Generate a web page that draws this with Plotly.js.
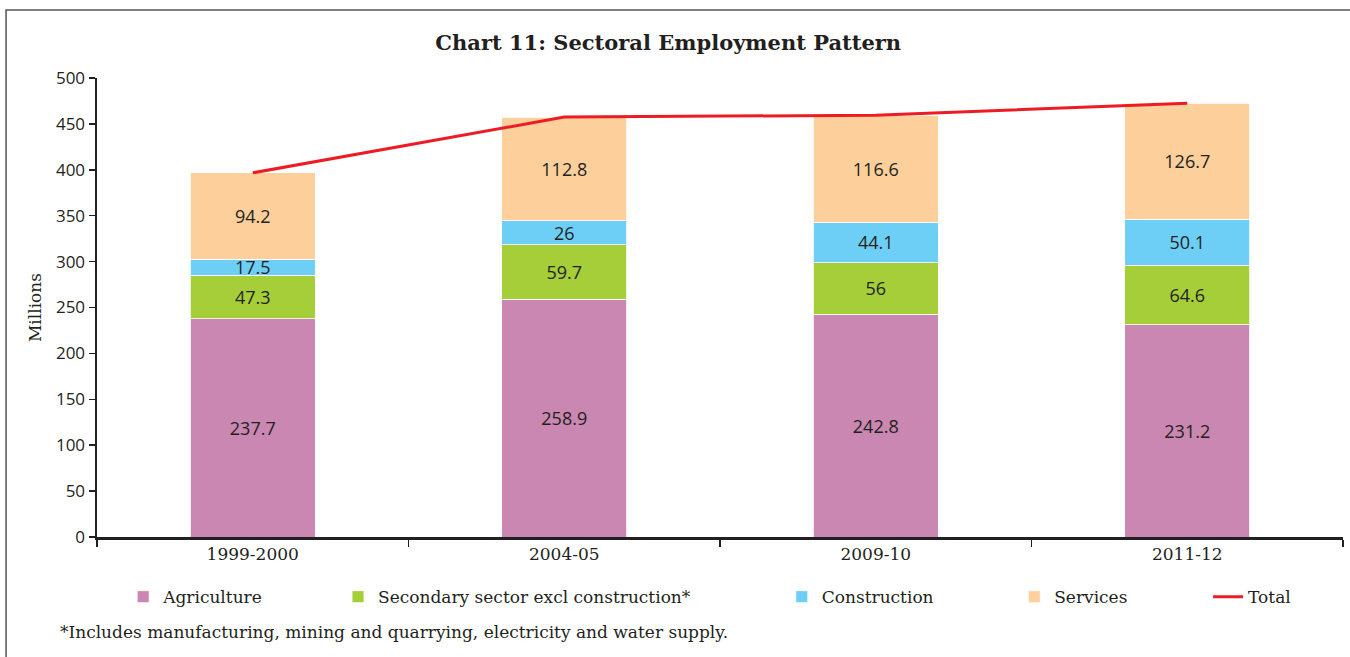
<!DOCTYPE html>
<html>
<head>
<meta charset="utf-8">
<script src="https://cdn.plot.ly/plotly-3.0.1.min.js"></script>
<style>html,body{margin:0;padding:0;background:#fff;}#chart{width:1350px;height:657px;}</style>
</head>
<body>
<div id="chart"></div>
<script>
var years = ["1999-2000", "2004-05", "2009-10", "2011-12"];
var agriculture = [237.7, 258.9, 242.8, 231.2];
var secondary = [47.3, 59.7, 56, 64.6];
var construction = [17.5, 26, 44.1, 50.1];
var services = [94.2, 112.8, 116.6, 126.7];
var total = [396.7, 457.4, 459.5, 472.6];
var yTicks = [0, 50, 100, 150, 200, 250, 300, 350, 400, 450, 500];

var txt = '#231f20';
var serif = '"DejaVu Serif", serif';
var sans = '"Open Sans", sans-serif';
var pad = function (s, n) { return s + '\u00a0'.repeat(n); };

function barTrace(name, vals, color, padN) {
  return {
    type: 'bar', name: pad(name, padN), x: years, y: vals,
    marker: {color: color, line: {color: '#ffffff', width: 0.8}},
    text: vals.map(String), textposition: 'inside', insidetextanchor: 'middle',
    constraintext: 'none', textangle: 0,
    textfont: {family: sans, size: 18, color: txt},
    hoverinfo: 'skip'
  };
}

var data = [
  barTrace('Agriculture', agriculture, '#c987b1', 13),
  barTrace('Secondary sector excl construction*', secondary, '#a6ce39', 16),
  barTrace('Construction', construction, '#6dcff6', 14),
  barTrace('Services', services, '#fdcf9b', 14),
  {type: 'scatter', mode: 'lines', name: 'Total', x: years, y: total,
   line: {color: '#ed1c24', width: 3}, hoverinfo: 'skip'}
];

var layout = {
  width: 1350, height: 657,
  margin: {l: 97, r: 7, t: 78, b: 120},
  paper_bgcolor: '#ffffff', plot_bgcolor: '#ffffff',
  barmode: 'stack', bargap: 0.6,
  showlegend: true,
  font: {family: serif, color: txt, size: 17},
  title: {text: '<b>Chart 11: Sectoral Employment Pattern</b>', x: 0.495, xanchor: 'center',
          y: 0.935, yanchor: 'middle', font: {family: serif, size: 21, color: txt}},
  xaxis: {type: 'category', range: [-0.5, 3.5], tickson: 'boundaries',
          ticks: 'outside', ticklen: 7, tickwidth: 1.5, tickcolor: txt,
          showline: true, linecolor: txt, linewidth: 2.5, showgrid: false, zeroline: false,
          tickfont: {family: serif, size: 17, color: txt}, fixedrange: true},
  yaxis: {range: [0, 500], tickmode: 'array', tickvals: yTicks, ticktext: yTicks.map(String),
          ticks: 'outside', ticklen: 6, tickwidth: 1.5, tickcolor: txt,
          showline: true, linecolor: txt, linewidth: 2.5, showgrid: false, zeroline: false,
          tickfont: {family: sans, size: 17, color: txt},
          title: {text: 'Millions', font: {family: serif, size: 17, color: txt}, standoff: 10},
          fixedrange: true},
  legend: {orientation: 'h', x: 0.021, xanchor: 'left', y: -0.131, yanchor: 'middle',
           font: {family: serif, size: 17, color: txt}, traceorder: 'normal',
           bgcolor: 'rgba(0,0,0,0)'},
  shapes: [{type: 'rect', xref: 'paper', yref: 'paper', x0: -0.073, x1: 1.05, y0: -0.4, y1: 1.148,
            line: {color: '#555555', width: 1.5}, fillcolor: 'rgba(0,0,0,0)', layer: 'below'}],
  annotations: [{xref: 'paper', yref: 'paper', x: -0.031, xanchor: 'left', y: -0.207, yanchor: 'middle',
                 showarrow: false, text: '*Includes manufacturing, mining and quarrying, electricity and water supply.',
                 font: {family: serif, size: 17, color: txt}}]
};

Plotly.newPlot('chart', data, layout, {displayModeBar: false, staticPlot: true});
</script>
</body>
</html>
